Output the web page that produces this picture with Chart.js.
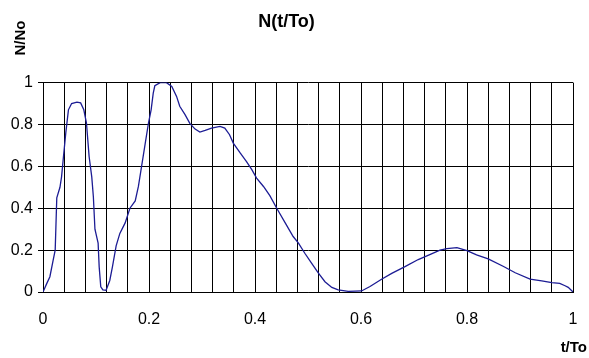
<!DOCTYPE html>
<html>
<head>
<meta charset="utf-8">
<script src="https://cdn.jsdelivr.net/npm/chart.js@4"></script>
<style>
  html, body { margin: 0; padding: 0; background: #fff; }
  #wrap { width: 589px; height: 358px; }
</style>
</head>
<body>
<div id="wrap"><canvas id="nChart"></canvas></div>
<script>
// t/To values and N/No values
const tValues = [0, 0.007, 0.013, 0.019, 0.023, 0.026, 0.032, 0.035, 0.038, 0.043, 0.048, 0.054,
  0.064, 0.071, 0.077, 0.082, 0.087, 0.092, 0.095, 0.098, 0.104, 0.106, 0.109, 0.113, 0.119,
  0.126, 0.131, 0.138, 0.145, 0.155, 0.164, 0.174, 0.180, 0.186, 0.192, 0.199, 0.204, 0.208,
  0.211, 0.221, 0.233, 0.243, 0.252, 0.258, 0.268, 0.277, 0.287, 0.296, 0.306, 0.318, 0.334,
  0.343, 0.352, 0.359, 0.372, 0.384, 0.394, 0.403, 0.416, 0.428, 0.441, 0.457, 0.472, 0.482,
  0.494, 0.507, 0.519, 0.532, 0.545, 0.557, 0.576, 0.601, 0.617, 0.638, 0.658, 0.683, 0.708,
  0.733, 0.749, 0.762, 0.781, 0.800, 0.818, 0.840, 0.869, 0.891, 0.919, 0.941, 0.960, 0.975,
  0.985, 0.991, 1.0];
const nValues = [0, 0.04, 0.073, 0.15, 0.20, 0.45, 0.50, 0.55, 0.63, 0.76, 0.87, 0.90,
  0.907, 0.903, 0.87, 0.807, 0.647, 0.55, 0.456, 0.30, 0.233, 0.12, 0.025, 0.01, 0.008,
  0.055, 0.12, 0.22, 0.28, 0.33, 0.40, 0.435, 0.504, 0.60, 0.695, 0.807, 0.87, 0.95,
  0.985, 1.0, 1.0, 0.982, 0.934, 0.887, 0.847, 0.805, 0.778, 0.764, 0.772, 0.783, 0.791,
  0.783, 0.751, 0.711, 0.664, 0.623, 0.584, 0.544, 0.504, 0.46, 0.40, 0.33, 0.265, 0.233,
  0.185, 0.137, 0.092, 0.049, 0.022, 0.01, 0.003, 0.005, 0.026, 0.06, 0.089, 0.121, 0.155,
  0.182, 0.2, 0.207, 0.212, 0.198, 0.177, 0.158, 0.122, 0.092, 0.062, 0.053, 0.045, 0.041,
  0.03, 0.022, 0];
const xLabelTicks = [0, 0.2, 0.4, 0.6, 0.8, 1];

const points = tValues.map((t, i) => ({ x: t, y: nValues[i] }));

// axis titles sit outside the plot area, so draw them by hand
const axisTitles = {
  id: 'axisTitles',
  afterDraw(chart) {
    const c = chart.ctx;
    c.save();
    c.fillStyle = '#000';
    c.font = 'bold 15px "Liberation Sans", Arial, sans-serif';
    c.textBaseline = 'middle';
    c.translate(21, 38);
    c.rotate(-Math.PI / 2);
    c.textAlign = 'center';
    c.fillText('N/No', 0, 0);
    c.restore();
    c.save();
    c.fillStyle = '#000';
    c.font = 'bold 15px "Liberation Sans", Arial, sans-serif';
    c.textAlign = 'right';
    c.textBaseline = 'middle';
    c.fillText('t/To', 587, 348);
    c.restore();
  }
};

const ctx = document.getElementById('nChart').getContext('2d');
const nChart = new Chart(ctx, {
  type: 'line',
  data: {
    datasets: [{
      data: points,
      borderColor: '#1c1c94',
      borderWidth: 1.3,
      pointRadius: 0,
      tension: 0,
      fill: false
    }]
  },
  options: {
    responsive: true,
    maintainAspectRatio: false,
    animation: false,
    layout: { padding: { left: 0, right: 16, top: 0, bottom: 0 } },
    plugins: {
      legend: { display: false },
      tooltip: { enabled: false },
      title: {
        display: true,
        text: 'N(t/To)',
        color: '#000',
        font: { family: '"Liberation Sans", Arial, sans-serif', size: 18, weight: 'bold' },
        padding: { top: 11, bottom: 50 }
      }
    },
    scales: {
      x: {
        type: 'linear',
        min: 0,
        max: 1,
        grid: { color: '#000', lineWidth: 1, drawTicks: false },
        border: { color: '#000' },
        ticks: {
          stepSize: 0.04,
          autoSkip: false,
          maxRotation: 0,
          padding: 18,
          color: '#000',
          font: { family: '"Liberation Sans", Arial, sans-serif', size: 16 },
          callback: (v) => {
            const hit = xLabelTicks.find(l => Math.abs(l - v) < 1e-6);
            return hit === undefined ? '' : String(hit);
          }
        },
        afterFit: (s) => { s.height = 66; s.paddingLeft = 0; s.paddingRight = 0; }
      },
      y: {
        min: 0,
        max: 1,
        grid: { color: '#000', lineWidth: 1, tickLength: 5 },
        border: { color: '#000' },
        ticks: {
          stepSize: 0.2,
          padding: 5,
          color: '#000',
          font: { family: '"Liberation Sans", Arial, sans-serif', size: 16 },
          callback: (v) => String(Math.round(v * 10) / 10)
        },
        afterFit: (s) => { s.width = 43; }
      }
    }
  },
  plugins: [axisTitles]
});
</script>
</body>
</html>
